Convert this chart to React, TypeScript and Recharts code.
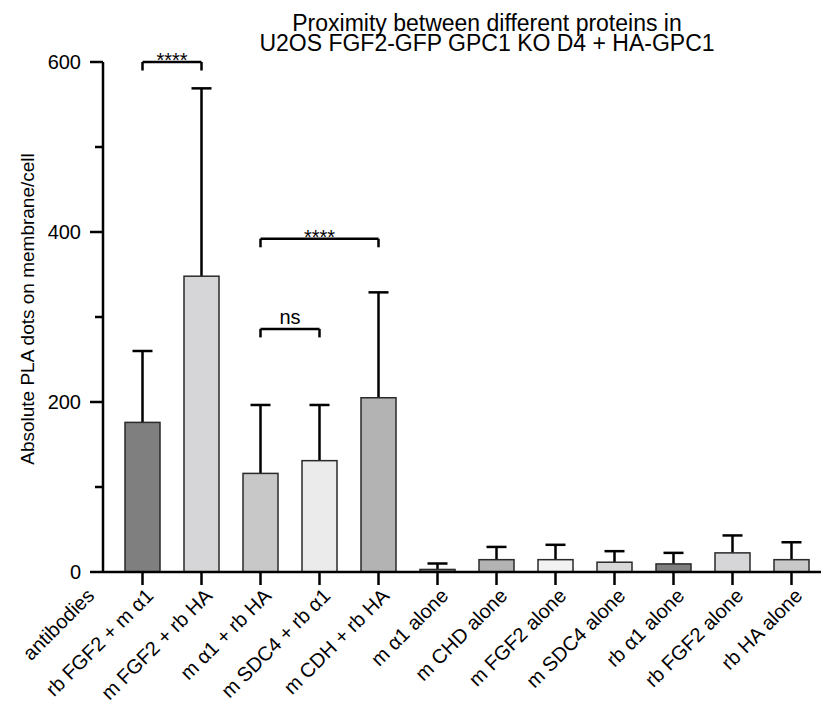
import { BarChart, Bar, XAxis, YAxis, ReferenceLine } from "recharts";

const FONT = "'Liberation Sans', Arial, sans-serif";

const labels = [
  "rb FGF2 + m α1",
  "m FGF2 + rb HA",
  "m α1 + rb HA",
  "m SDC4 + rb α1",
  "m CDH + rb HA",
  "m α1 alone",
  "m CHD alone",
  "m FGF2 alone",
  "m SDC4 alone",
  "rb α1 alone",
  "rb FGF2 alone",
  "rb HA alone",
];
const means = [176, 348, 116, 131, 205, 3, 14.5, 14.5, 11.5, 9.5, 22.5, 14.5];
const sds = [84, 221, 80.5, 65.5, 124, 7, 15, 17.5, 13, 13, 20.5, 20.5];
const fills = [
  "#7f7f7f", "#d6d6d8", "#c8c8c8", "#ebebeb", "#b3b3b3", "#7f7f7f",
  "#b3b3b3", "#f2f2f2", "#d9d9d9", "#7f7f7f", "#d6d6d8", "#c8c8c8",
];
const yTicks = [0, 100, 200, 300, 400, 500, 600];
const rowHeader = "antibodies";

// significance brackets: category index range, y level, text
const brackets = [
  { from: 0, to: 1, y: 600, text: "****" },
  { from: 2, to: 4, y: 392, text: "****" },
  { from: 2, to: 3, y: 286, text: "ns" },
];

const data = labels.map((name, i) => ({ name, mean: means[i], sd: sds[i], color: fills[i] }));

function BarWithError(props: any) {
  const { x, y, width, height, payload } = props;
  const pxPerUnit = height / payload.mean;
  const top = y - payload.sd * pxPerUnit;
  const cx = x + width / 2;
  return (
    <g>
      <line x1={cx} y1={y} x2={cx} y2={top} stroke="#000" strokeWidth={2.5} />
      <line x1={cx - 10} y1={top} x2={cx + 10} y2={top} stroke="#000" strokeWidth={2.5} />
      <rect x={x} y={y} width={width} height={height} fill={payload.color} stroke="#2a2a2a" strokeWidth={1.5} />
    </g>
  );
}

function YTick(props: any) {
  const { x, y, payload } = props;
  const major = payload.value % 200 === 0;
  return (
    <g>
      <line x1={x - (major ? 13 : 8)} y1={y} x2={x} y2={y} stroke="#000" strokeWidth={2.5} />
      {major && (
        <text x={x - 22} y={y} dy="0.36em" textAnchor="end" fontSize={20} fontFamily={FONT} fill="#000">
          {payload.value}
        </text>
      )}
    </g>
  );
}

function XTick(props: any) {
  const { x, y, payload, index } = props;
  const tx = x + 12;
  const ty = y + 25;
  return (
    <g>
      <line x1={x} y1={y} x2={x} y2={y + 13} stroke="#000" strokeWidth={2.5} />
      <text x={tx} y={ty} textAnchor="end" fontSize={20} fontFamily={FONT} fill="#000"
        transform={`rotate(-45, ${tx}, ${ty})`}>
        {payload.value}
      </text>
      {index === 0 && (
        <text x={tx - 59} y={ty} textAnchor="end" fontSize={20} fontFamily={FONT} fill="#000"
          transform={`rotate(-45, ${tx - 59}, ${ty})`}>
          {rowHeader}
        </text>
      )}
    </g>
  );
}

function YLabel(props: any) {
  const { viewBox } = props;
  const cx = 27;
  const cy = viewBox.y + viewBox.height / 2 - 8;
  return (
    <text x={cx} y={cy} textAnchor="middle" dy="0.36em" fontSize={19} fontFamily={FONT} fill="#000"
      transform={`rotate(-90, ${cx}, ${cy})`}>
      Absolute PLA dots on membrane/cell
    </text>
  );
}

function bracketLabel(text: string) {
  return (props: any) => {
    const { viewBox } = props;
    const cx = viewBox.x + viewBox.width / 2;
    const isStars = text.startsWith("*");
    return (
      <text x={cx} y={viewBox.y + (isStars ? 5 : -5)} textAnchor="middle" fontSize={20}
        fontFamily={FONT} fill="#000">
        {text}
      </text>
    );
  };
}

export default function App() {
  return (
    <div style={{ position: "absolute", left: 0, top: 0, width: 822, height: 702, background: "#fff" }}>
      <div
        style={{
          position: "absolute",
          left: 237,
          width: 500,
          top: 13,
          textAlign: "center",
          fontFamily: FONT,
          fontSize: 23,
          lineHeight: "20px",
          color: "#000",
          whiteSpace: "nowrap",
        }}
      >
        Proximity between different proteins in
        <br />
        U2OS FGF2-GFP GPC1 KO D4 + HA-GPC1
      </div>
      <BarChart
        width={822}
        height={702}
        data={data}
        margin={{ top: 62, right: 1, bottom: 100, left: 0 }}
        barCategoryGap={0}
      >
        <XAxis
          dataKey="name"
          type="category"
          interval={0}
          height={30}
          padding={{ left: 10, right: 0 }}
          axisLine={{ stroke: "#000", strokeWidth: 2.5 }}
          tickLine={false}
          tickSize={0}
          tickMargin={0}
          tick={<XTick />}
        />
        <YAxis
          type="number"
          domain={[0, 600]}
          ticks={yTicks}
          width={103}
          axisLine={{ stroke: "#000", strokeWidth: 2.5 }}
          tickLine={false}
          tickSize={0}
          tickMargin={0}
          tick={<YTick />}
          label={<YLabel />}
        />
        <Bar dataKey="mean" barSize={35} shape={<BarWithError />} isAnimationActive={false} />
        {brackets.map((b, i) => (
          <ReferenceLine
            key={`h${i}`}
            ifOverflow="visible"
            segment={[{ x: labels[b.from], y: b.y }, { x: labels[b.to], y: b.y }]}
            stroke="#000"
            strokeWidth={2.5}
            label={bracketLabel(b.text)}
          />
        ))}
        {brackets.map((b, i) => (
          <ReferenceLine
            key={`l${i}`}
            ifOverflow="visible"
            segment={[{ x: labels[b.from], y: b.y }, { x: labels[b.from], y: b.y - 10 }]}
            stroke="#000"
            strokeWidth={2.5}
          />
        ))}
        {brackets.map((b, i) => (
          <ReferenceLine
            key={`r${i}`}
            ifOverflow="visible"
            segment={[{ x: labels[b.to], y: b.y }, { x: labels[b.to], y: b.y - 10 }]}
            stroke="#000"
            strokeWidth={2.5}
          />
        ))}
      </BarChart>
    </div>
  );
}
